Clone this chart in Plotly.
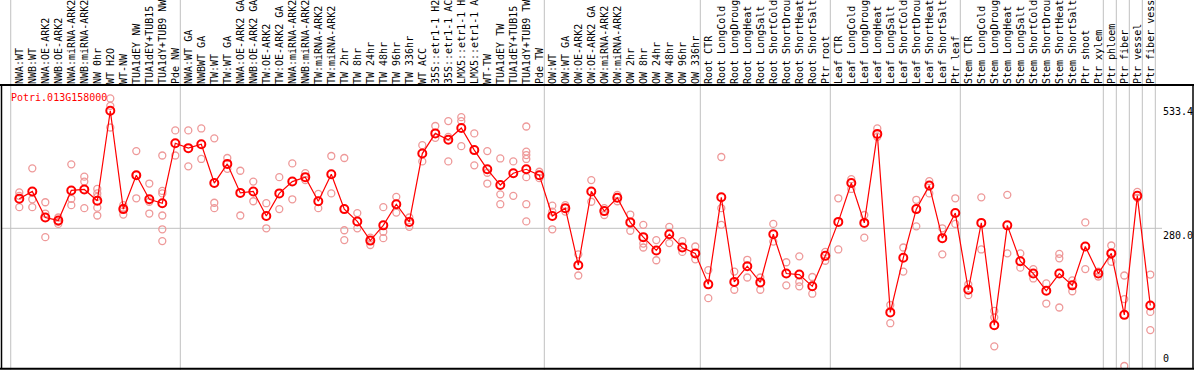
import plotly.graph_objects as go

W, H = 1194, 370

categories = [
    "NWA:WT", "NWB:WT", "NWA:OE-ARK2", "NWB:OE-ARK2", "NWA:miRNA-ARK2", "NWB:miRNA-ARK2",
    "NW 0hr", "WT H2O", "WT-NW", "TUA1dEY NW", "TUA1dEY+TUB15", "TUA1dY+TUB9 NW", "Pde NW",
    "NWA:WT GA", "NWBWT GA", "TW:WT", "TW:WT GA", "NWA:OE-ARK2 GA", "NWB:OE-ARK2 GA",
    "TW:OE-ARK2", "TW:OE-ARK2 GA", "NWA:miRNA-ARK2", "NWB:miRNA-ARK2", "TW:miRNA-ARK2",
    "TW:miRNA-ARK2", "TW 2hr", "TW 8hr", "TW 24hr", "TW 48hr", "TW 96hr", "TW 336hr",
    "WT ACC", "35S::etr1-1 H2", "35S::etr1-1 AC", "LMX5::etr1-1 H", "LMX5::etr1-1 A",
    "WT-TW", "TUA1dEY TW", "TUA1dEY+TUB15", "TUA1dY+TUB9 TW", "Pde TW",
    "OW:WT", "OW:WT GA", "OW:OE-ARK2", "OW:OE-ARK2 GA", "OW:miRNA-ARK2", "OW:miRNA-ARK2",
    "OW 2hr", "OW 8hr", "OW 24hr", "OW 48hr", "OW 96hr", "OW 336hr",
    "Root CTR", "Root LongCold", "Root LongDroug", "Root LongHeat", "Root LongSalt",
    "Root ShortCold", "Root ShortDrou", "Root ShortHeat", "Root ShortSalt", "Ptr root",
    "Leaf CTR", "Leaf LongCold", "Leaf LongDroug", "Leaf LongHeat", "Leaf LongSalt",
    "Leaf ShortCold", "Leaf ShortDrou", "Leaf ShortHeat", "Leaf ShortSalt", "Ptr leaf",
    "Stem CTR", "Stem LongCold", "Stem LongDroug", "Stem LongHeat", "Stem LongSalt",
    "Stem ShortCold", "Stem ShortDrou", "Stem ShortHeat", "Stem ShortSalt", "Ptr shoot",
    "Ptr xylem", "Ptr phloem", "Ptr fiber", "Ptr vessel", "Ptr fiber vess",
]

mean_values = [
    340, 355, 302, 296, 357, 359, 336, 519, 319, 388, 339, 331, 453,
    443, 451, 372, 411, 352, 355, 305, 351, 375, 384, 335, 390, 319, 294, 255, 286, 329,
    293, 432, 473, 460, 484, 439, 400, 368, 392, 400, 388,
    305, 321, 205, 355, 315, 342, 292, 262, 235, 268, 241, 229,
    166, 343, 171, 203, 170, 268, 188, 186, 162, 224,
    293, 372, 291, 472, 109, 220, 319, 367, 260, 311,
    155, 291, 83, 286, 213, 188, 153, 188, 164, 243, 188,
    229, 104, 346, 123,
]

replicate_values = [
    [353, 346, 323], [402, 339, 323], [333, 310, 262], [302, 289, 293],
    [410, 340, 327], [385, 375, 321], [360, 351, 344, 322, 306], [544, 529, 485],
    [327, 308, 322], [437, 341, 388], [371, 334, 310], [428, 356, 351, 306, 278, 254],
    [479, 428],
    [479, 406], [483, 421], [463, 332, 321], [423, 401], [397, 306], [375, 335],
    [331, 280], [384, 319], [412, 339], [392, 378], [350, 321], [427, 351],
    [423, 276, 256], [311, 280], [261, 246], [323, 273, 260], [344, 312], [302, 283],
    [449, 416], [488, 464], [498, 466, 416], [506, 498, 447], [473, 408],
    [437, 393, 371], [422, 349, 329], [416, 346],
    [487, 436, 429, 421, 384, 329, 294], [395, 382],
    [326, 314, 278], [327, 314], [227, 184], [378, 334], [321, 307], [348, 335],
    [308, 275], [287, 249, 241], [256, 215], [283, 250], [254, 232], [243, 217],
    [195, 138], [425, 321, 287], [192, 155], [216, 180], [180, 155], [289, 253],
    [211, 164], [223, 171, 162], [181, 147], [232, 214],
    [341, 237], [380, 360], [307, 261], [483, 466], [124, 87], [241, 192],
    [338, 284], [376, 351], [280, 227], [341, 289],
    [166, 144], [343, 237], [112, 99, 40], [348, 229], [229, 200], [197, 178],
    [168, 127], [228, 219, 119], [174, 152], [292, 197], [192, 182],
    [245, 212], [184, 136, 0], [354, 342], [186, 110, 73],
]

gene_name = "Potri.013G158000"
y_tick_values = [533.4, 280.0, 0]
y_tick_text = ["533.4", "280.0", "0"]

MONO = "DejaVu Sans Mono"
RED = "#FF0000"
PINK = "#EE9999"
GRID = "#C0C0C0"


def px_x(p):
    return p / W


def px_y(p):
    return 1 - p / H


x_idx = list(range(len(categories)))

rep_x, rep_y = [], []
for i, vals in enumerate(replicate_values):
    for v in vals:
        rep_x.append(i)
        rep_y.append(v)

fig = go.Figure()
fig.add_trace(go.Scatter(
    x=rep_x, y=rep_y, mode="markers",
    marker=dict(symbol="circle-open", size=7, color=PINK, line=dict(width=1.3)),
    hoverinfo="skip", showlegend=False,
))
fig.add_trace(go.Scatter(
    x=x_idx, y=mean_values, mode="lines+markers",
    line=dict(color=RED, width=1.2),
    marker=dict(symbol="circle-open", size=8, color=RED, line=dict(width=2)),
    showlegend=False,
))

# group separators (after these category indices)
separators_after = [12, 40, 52, 62, 72, 83, 84, 85, 86, 87]
shapes = []
shapes.append(dict(type="line", xref="x", yref="paper", x0=-0.66, x1=-0.66, y0=0, y1=1,
                   line=dict(color=GRID, width=1), layer="below"))
for s in separators_after:
    xs = s + 5 / 13
    shapes.append(dict(type="line", xref="x", yref="paper", x0=xs, x1=xs, y0=0, y1=1,
                       line=dict(color=GRID, width=1), layer="below"))
shapes.append(dict(type="line", xref="paper", yref="y", x0=px_x(1.5), x1=px_x(1162),
                   y0=280, y1=280, line=dict(color=GRID, width=1), layer="below"))
# frame
shapes.append(dict(type="line", xref="paper", yref="paper", x0=0, x1=1, y0=px_y(85), y1=px_y(85),
                   line=dict(color="black", width=2)))
shapes.append(dict(type="line", xref="paper", yref="paper", x0=0, x1=1, y0=px_y(368.8), y1=px_y(368.8),
                   line=dict(color="black", width=2)))
shapes.append(dict(type="line", xref="paper", yref="paper", x0=px_x(1.5), x1=px_x(1.5), y0=px_y(85), y1=px_y(369),
                   line=dict(color="black", width=1.5)))
shapes.append(dict(type="line", xref="paper", yref="paper", x0=px_x(1193), x1=px_x(1193), y0=px_y(85), y1=px_y(369),
                   line=dict(color="black", width=1.5)))

annotations = [dict(
    text=gene_name, xref="paper", yref="paper", x=px_x(8.5), y=px_y(97),
    xanchor="left", yanchor="middle", showarrow=False,
    font=dict(family=MONO, size=10, color=RED),
)]
for v, t in zip(y_tick_values, y_tick_text):
    annotations.append(dict(
        text=t, xref="paper", yref="y", x=px_x(1161), y=v,
        xanchor="left", yanchor="bottom" if v == 0 else "top", showarrow=False,
        font=dict(family=MONO, size=10, color="black"),
    ))

fig.update_layout(
    width=W, height=H,
    margin=dict(l=0, r=0, t=0, b=0, pad=0),
    paper_bgcolor="white", plot_bgcolor="white",
    xaxis=dict(
        range=[-19.3 / 13, (W - 19.3) / 13], domain=[0, 1],
        side="top", tickmode="array", tickvals=x_idx, ticktext=categories,
        tickangle=-90, tickfont=dict(family=MONO, size=10, color="black"),
        ticks="", showgrid=False, zeroline=False, showline=False, automargin=False,
        fixedrange=True,
    ),
    yaxis=dict(
        range=[-4.07, 571.4], domain=[(H - 368) / H, (H - 85) / H],
        visible=False, fixedrange=True,
    ),
    shapes=shapes, annotations=annotations,
)

fig.write_html(
    "out.html",
    config={"displayModeBar": False},
    post_script="document.body.style.margin='0px';document.body.style.overflow='hidden';",
)
